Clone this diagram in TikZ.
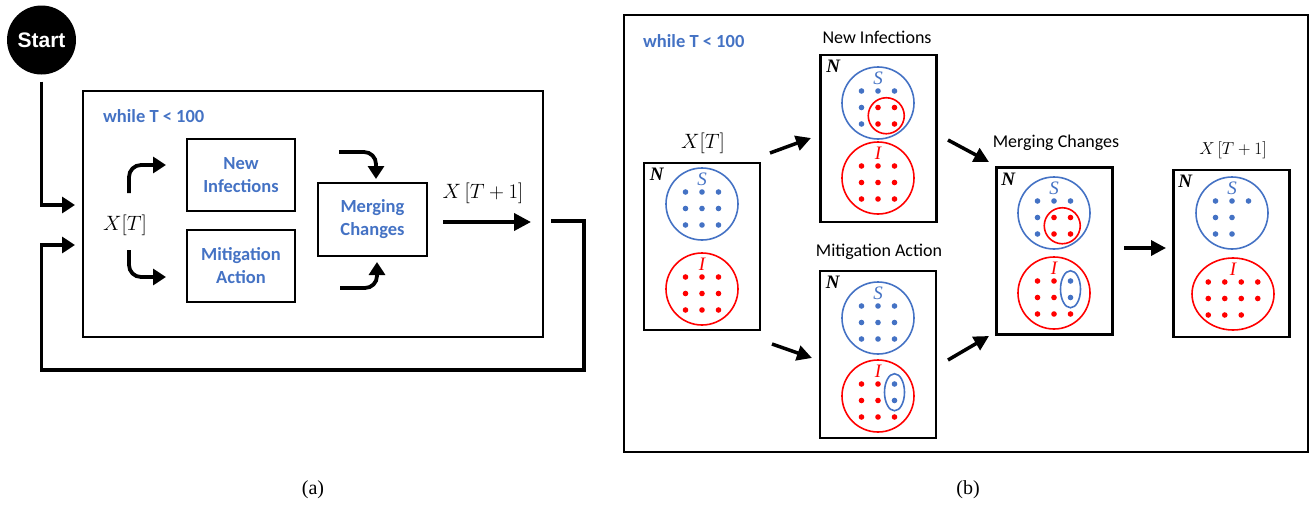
\documentclass[tikz,border=0pt]{standalone}
\usepackage{fontspec}
\setmainfont{Liberation Serif}
\newfontfamily\carlito{Carlito}
\newfontfamily\arialf{Liberation Sans}
\usetikzlibrary{arrows.meta,shapes.geometric,calc}
\definecolor{oblue}{HTML}{4472C4}
\definecolor{ored}{HTML}{FF0000}
\newcommand\gridnine[2]{%
  \foreach \dx in {-16.5,0,16.5}{\foreach \dy in {-12,4.5,21}{\fill[#2] ($(#1)+(\dx,\dy)$) circle (2.8pt);}}}
\begin{document}
\begin{tikzpicture}[x=1pt,y=-1pt,
  conn/.style={line width=3.8pt},
  atip/.style={-{Triangle[length=13pt,width=16pt]}},
  btip/.style={line width=3.5pt,-{Triangle[length=15pt,width=15pt]}},
  aboxst/.style={draw,line width=1.8pt,inner sep=0pt,align=center,text=oblue,
    font=\carlito\bfseries\fontsize{18.5}{23}\selectfont},
  whilelab/.style={anchor=west,inner sep=0pt,text=oblue,font=\carlito\bfseries\fontsize{18.5}{23}\selectfont},
  blab/.style={inner sep=0pt,font=\carlito\fontsize{18}{22}\selectfont},
  bboxst/.style={draw,line width=2.5pt,minimum width=116pt,minimum height=167pt,inner sep=0pt},
  scirc/.style={circle,draw=oblue,line width=1.6pt,minimum size=72pt,inner sep=0pt},
  icirc/.style={circle,draw=ored,line width=1.6pt,minimum size=72pt,inner sep=0pt},
  subr/.style={circle,draw=ored,line width=1.6pt,minimum size=36pt,inner sep=0pt},
  subb/.style={ellipse,draw=oblue,line width=1.6pt,minimum width=20pt,minimum height=37pt,inner sep=0pt},
  slab/.style={inner sep=0pt,text=oblue,font=\itshape\fontsize{19}{19}\selectfont},
  ilab/.style={inner sep=0pt,text=ored,font=\itshape\fontsize{19}{19}\selectfont},
  nlab/.style={inner sep=0pt,font=\bfseries\itshape\fontsize{19}{19}\selectfont},
  caplab/.style={inner sep=0pt,font=\fontsize{20}{20}\selectfont}]
\useasboundingbox (0,0) rectangle (1312,506);

% ================= panel (a) =================
\node[circle,fill=black,minimum size=69pt,inner sep=0pt,text=white,
  font=\arialf\bfseries\fontsize{21}{21}\selectfont] (start) at (41.5,40) {Start};
\node[draw,line width=1.5pt,minimum width=460pt,minimum height=246pt,inner sep=0pt] (frameA) at (313,214) {};
\node[whilelab] (whileA) at (103,116) {while T < 100};
\node[aboxst,minimum width=108pt,minimum height=72pt] (niA) at (241,175) {New\\Infections};
\node[aboxst,minimum width=108pt,minimum height=72pt] (maA) at (241,266) {Mitigation\\Action};
\node[aboxst,minimum width=109pt,minimum height=73pt] (mcA) at (372.5,219.5) {Merging\\Changes};
\node[inner sep=0pt,font=\fontsize{22}{22}\selectfont] (xtA) at (125,225) {$X[T]$};
\node[inner sep=0pt,font=\fontsize{21}{21}\selectfont] (xt1A) at (483,193) {$X\,[T+1]$};

\coordinate (inA1) at (75,205);
\coordinate (inA2) at (75,245);
\coordinate (outA) at (551,221);
\coordinate (fbBR) at (584,370);
\coordinate (fbBL) at (41.5,370);
\coordinate (c1s) at (129,193);
\coordinate (c1e) at (166,165);
\coordinate (c2s) at (129,250);
\coordinate (c2e) at (166,277);
\coordinate (c3s) at (339,152);
\coordinate (c3e) at (376,179);
\coordinate (c4s) at (340,288);
\coordinate (c4e) at (377,262);
\coordinate (xa) at (443,222);
\coordinate (xb) at (531,222);

\draw[conn,atip] ([yshift=-7pt]start.south) |- (inA1);
\draw[conn,atip] (outA) -| (fbBR) -- (fbBL) |- (inA2);
\draw[conn,atip,rounded corners=12pt] (c1s) |- (c1e);
\draw[conn,atip,rounded corners=12pt] (c2s) |- (c2e);
\draw[conn,atip,rounded corners=12pt] (c3s) -| (c3e);
\draw[conn,atip,rounded corners=12pt] (c4s) -| (c4e);
\draw[conn,-{Triangle[length=17pt,width=17pt]}] (xa) -- (xb);

\node[caplab] (capA) at (313,490) {(a)};

% ================= panel (b) =================
\node[draw,line width=2pt,minimum width=684pt,minimum height=437pt,inner sep=0pt] (frameB) at (966,233.5) {};
\node[whilelab] (whileB) at (643,41) {while T < 100};

\node[bboxst] (xt) at (702,246.5) {};
\node[bboxst] (ni) at (878.5,138.5) {};
\node[bboxst] (ma) at (878,354.5) {};
\node[bboxst] (mc) at (1054.5,251) {};
\node[bboxst] (x1) at (1231.5,253.5) {};

\node[inner sep=0pt,font=\fontsize{20}{20}\selectfont] (lxt) at (703,143) {$X[T]$};
\node[blab] (lni) at (877,37) {New Infections};
\node[blab] (lma) at (879,252) {Mitigation Action};
\node[blab] (lmc) at (1056,143) {Merging Changes};
\node[inner sep=0pt,font=\fontsize{19}{19}\selectfont] (lx1) at (1233,150) {$X\,[T+1]$};

% N labels
\node[nlab] (xtN) at ($(xt.north west)+(14,13)$) {N};
\node[nlab] (niN) at ($(ni.north west)+(14,13)$) {N};
\node[nlab] (maN) at ($(ma.north west)+(14,13)$) {N};
\node[nlab] (mcN) at ($(mc.north west)+(13,13)$) {N};
\node[nlab] (x1N) at ($(x1.north west)+(13,13)$) {N};

% X[T]
\node[scirc] (xtS) at (702,204) {};
\node[icirc] (xtI) at (702,289) {};
\node[slab] (xtSl) at ($(xtS)+(0,-25)$) {S};
\node[ilab] (xtIl) at ($(xtI)+(0,-25)$) {I};
\gridnine{xtS}{oblue}
\gridnine{xtI}{ored}

% New infections
\node[scirc] (niS) at (878,103) {};
\node[icirc] (niI) at (878,178) {};
\node[slab] (niSl) at ($(niS)+(0,-25)$) {S};
\node[ilab] (niIl) at ($(niI)+(0,-25)$) {I};
\foreach \dx/\dy in {-16.5/-12,0/-12,16.5/-12,-16.5/4.5,-16.5/21}{\fill[oblue] ($(niS)+(\dx,\dy)$) circle (2.8pt);}
\foreach \dx/\dy in {0/4.5,16.5/4.5,0/21,16.5/21}{\fill[ored] ($(niS)+(\dx,\dy)$) circle (2.8pt);}
\node[subr] (niR) at ($(niS)+(8.25,12.75)$) {};
\gridnine{niI}{ored}

% Mitigation action
\node[scirc] (maS) at (878,318) {};
\node[icirc] (maI) at (878,396) {};
\node[slab] (maSl) at ($(maS)+(0,-25)$) {S};
\node[ilab] (maIl) at ($(maI)+(0,-25)$) {I};
\gridnine{maS}{oblue}
\foreach \dx/\dy in {-16.5/-12,0/-12,-16.5/4.5,0/4.5,-16.5/21,0/21,16.5/21}{\fill[ored] ($(maI)+(\dx,\dy)$) circle (2.8pt);}
\foreach \dx/\dy in {16.5/-12,16.5/4.5}{\fill[oblue] ($(maI)+(\dx,\dy)$) circle (2.8pt);}
\node[subb] (maB) at ($(maI)+(16.5,-3.75)$) {};

% Merging changes
\node[scirc] (mcS) at (1054,213) {};
\node[icirc] (mcI) at (1054,293) {};
\node[slab] (mcSl) at ($(mcS)+(0,-25)$) {S};
\node[ilab] (mcIl) at ($(mcI)+(0,-25)$) {I};
\foreach \dx/\dy in {-16.5/-12,0/-12,16.5/-12,-16.5/4.5,-16.5/21}{\fill[oblue] ($(mcS)+(\dx,\dy)$) circle (2.8pt);}
\foreach \dx/\dy in {0/4.5,16.5/4.5,0/21,16.5/21}{\fill[ored] ($(mcS)+(\dx,\dy)$) circle (2.8pt);}
\node[subr] (mcR) at ($(mcS)+(8.25,12.75)$) {};
\foreach \dx/\dy in {-16.5/-12,0/-12,-16.5/4.5,0/4.5,-16.5/21,0/21,16.5/21}{\fill[ored] ($(mcI)+(\dx,\dy)$) circle (2.8pt);}
\foreach \dx/\dy in {16.5/-12,16.5/4.5}{\fill[oblue] ($(mcI)+(\dx,\dy)$) circle (2.8pt);}
\node[subb] (mcB) at ($(mcI)+(16.5,-3.75)$) {};

% X[T+1]
\node[scirc] (x1S) at (1232,213) {};
\node[ellipse,draw=ored,line width=1.6pt,minimum width=82pt,minimum height=72pt,inner sep=0pt] (x1I) at (1233,294) {};
\node[slab] (x1Sl) at ($(x1S)+(0,-25)$) {S};
\node[ilab] (x1Il) at ($(x1I)+(0,-25)$) {I};
\foreach \dx/\dy in {-16.5/-12,0/-12,16.5/-12,-16.5/4.5,0/4.5,-16.5/21,0/21}{\fill[oblue] ($(x1S)+(\dx,\dy)$) circle (2.8pt);}
\foreach \dx/\dy in {-24.75/-12,-8.25/-12,8.25/-12,24.75/-12,-24.75/4.5,-8.25/4.5,8.25/4.5,24.75/4.5,-24.75/21,-8.25/21,8.25/21}{\fill[ored] ($(x1I)+(\dx,\dy)$) circle (2.8pt);}

% arrows (b)
\coordinate (b1s) at (770,153);
\coordinate (b1e) at (811,138);
\coordinate (b2s) at (772,344);
\coordinate (b2e) at (812,358);
\coordinate (b3s) at (948,140);
\coordinate (b3e) at (989,162);
\coordinate (b4s) at (948,360);
\coordinate (b4e) at (989,336);
\coordinate (b5s) at (1124,248);
\coordinate (b5e) at (1166,248);
\draw[btip] (b1s) -- (b1e);
\draw[btip] (b2s) -- (b2e);
\draw[btip] (b3s) -- (b3e);
\draw[btip] (b4s) -- (b4e);
\draw[btip] (b5s) -- (b5e);

\node[caplab] (capB) at (968,490) {(b)};
\end{tikzpicture}
\end{document}
